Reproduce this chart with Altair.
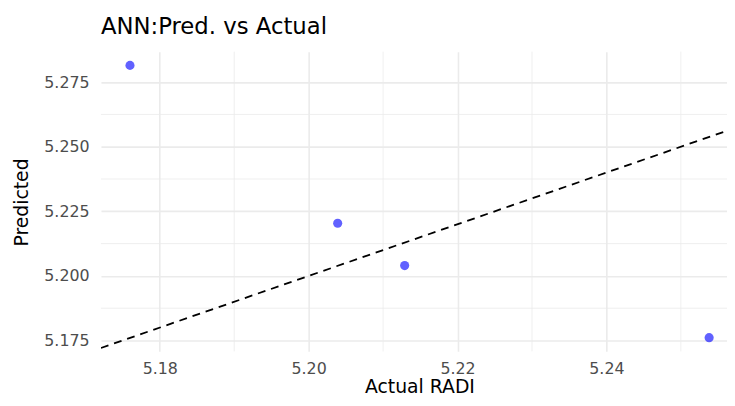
import altair as alt
import pandas as pd

# Data
actual = [5.1760, 5.2039, 5.2129, 5.2538]
predicted = [5.2815, 5.2204, 5.2040, 5.1761]

x_major = [5.18, 5.20, 5.22, 5.24]
x_minor = [5.19, 5.21, 5.23, 5.25]
y_major = [5.175, 5.200, 5.225, 5.250, 5.275]
y_minor = [5.1875, 5.2125, 5.2375, 5.2625]

x_domain = [5.1721, 5.2562]
y_domain = [5.1708, 5.2868]

FONT = "DejaVu Sans"
GRID = "#EBEBEB"

pts = pd.DataFrame({"actual": actual, "predicted": predicted})
ref = pd.DataFrame({"actual": x_domain, "predicted": x_domain})

xs = alt.Scale(domain=x_domain, nice=False, zero=False)
ys = alt.Scale(domain=y_domain, nice=False, zero=False)

points = alt.Chart(pts).mark_circle(
    color="blue", opacity=0.62, size=85, clip=True
).encode(
    x=alt.X(
        "actual:Q",
        scale=xs,
        axis=alt.Axis(
            title="Actual RADI",
            values=x_major,
            format=".2f",
            grid=True,
            gridColor=GRID,
            gridWidth=1.6,
            ticks=False,
            tickSize=0,
            domain=False,
            labelPadding=9,
            labelFont=FONT,
            labelFontSize=16,
            labelColor="#4D4D4D",
            titleFont=FONT,
            titleFontSize=19,
            titleFontWeight="normal",
            titleColor="black",
            titleX=322,
            titleY=42,
            titleAlign="center",
            titleBaseline="alphabetic",
        ),
    ),
    y=alt.Y(
        "predicted:Q",
        scale=ys,
        axis=alt.Axis(
            title="Predicted",
            values=y_major,
            format=".3f",
            grid=True,
            gridColor=GRID,
            gridWidth=1.6,
            ticks=False,
            tickSize=0,
            domain=False,
            labelPadding=12,
            labelFont=FONT,
            labelFontSize=16,
            labelColor="#4D4D4D",
            titleFont=FONT,
            titleFontSize=19,
            titleFontWeight="normal",
            titleColor="black",
            titleX=-74,
            titleY=152,
            titleAngle=270,
            titleAlign="center",
            titleBaseline="alphabetic",
        ),
    ),
)

minor_v = alt.Chart(pd.DataFrame({"actual": x_minor})).mark_rule(
    color=GRID, strokeWidth=0.8
).encode(x=alt.X("actual:Q", scale=xs))

minor_h = alt.Chart(pd.DataFrame({"predicted": y_minor})).mark_rule(
    color=GRID, strokeWidth=0.8
).encode(y=alt.Y("predicted:Q", scale=ys))

line = alt.Chart(ref).mark_line(
    color="black", strokeDash=[8, 6], strokeWidth=1.8, clip=True
).encode(
    x=alt.X("actual:Q", scale=xs),
    y=alt.Y("predicted:Q", scale=ys),
)

chart = alt.layer(points, minor_v, minor_h, line).properties(
    width=633,
    height=303,
    title=alt.TitleParams(
        "ANN:Pred. vs Actual",
        anchor="start",
        frame="group",
        font=FONT,
        fontSize=23,
        fontWeight="normal",
        color="black",
        baseline="alphabetic",
        offset=17,
        dy=23,
    ),
    autosize=alt.AutoSizeParams(type="none"),
    padding={"left": 94, "top": 42, "right": 0, "bottom": 45},
    background="white",
).configure_view(stroke=None)

chart.save("out.html", embed_options={"renderer": "svg", "actions": False})
